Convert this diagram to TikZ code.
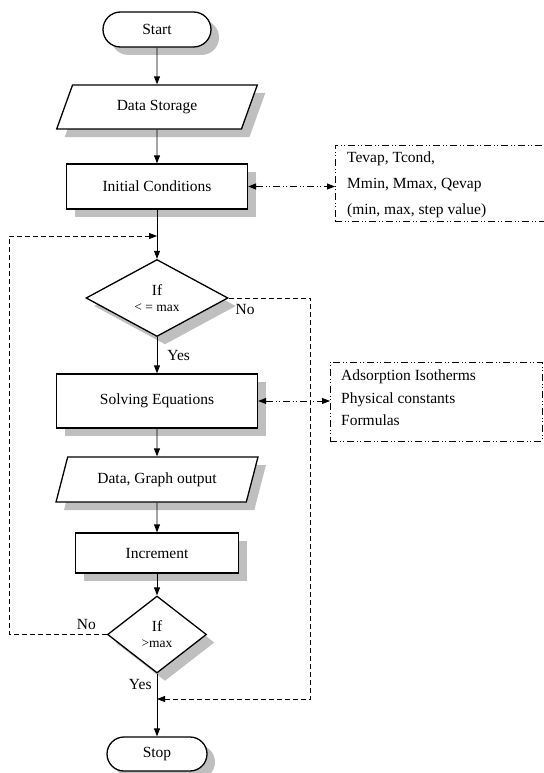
\documentclass[tikz,border=0pt]{standalone}
\usepackage{fontspec}
\setmainfont{Liberation Serif}
\usetikzlibrary{shapes.geometric,shapes.misc,arrows.meta,shadows}
\begin{document}
\begin{tikzpicture}[x=1pt,y=-1pt,
  base/.style={draw, line width=1.3pt, fill=white, font=\fontsize{15.5}{16}\selectfont, inner sep=0pt,
    drop shadow={shadow xshift=8pt, shadow yshift=-8pt, fill=black!25, opacity=1}},
  term/.style={base, rounded rectangle},
  io/.style={base, trapezium, trapezium left angle=61, trapezium right angle=119, trapezium stretches=true},
  proc/.style={base, rectangle},
  dec/.style={base, diamond, align=center},
  flow/.style={line width=0.9pt, -{Triangle[length=8pt,width=6pt]}},
  loop/.style={line width=0.8pt, dash pattern=on 5pt off 3pt, -{Triangle[length=8pt,width=6pt]}},
  link/.style={line width=0.8pt, dash pattern=on 7pt off 3pt on 1pt off 2pt on 1pt off 3pt,
    {Triangle[length=8pt,width=6pt]}-{Triangle[length=8pt,width=6pt]}},
  notebox/.style={draw, line width=0.8pt, dash pattern=on 7pt off 3pt on 1pt off 2pt on 1pt off 3pt,
    anchor=north west, inner sep=0pt},
  notetext/.style={anchor=west, align=left, inner sep=0pt},
  lbl/.style={font=\fontsize{15.5}{16}\selectfont, inner sep=0pt}
]
\useasboundingbox (0,0) rectangle (543,773);

\node[term, minimum width=108pt, minimum height=35pt] (start) at (157,29.5) {Start};
\node[io, minimum width=202pt, minimum height=44pt] (ds) at (157,107) {Data Storage};
\node[proc, minimum width=181pt, minimum height=45pt] (ic) at (157,186.5) {Initial Conditions};
\node[dec, minimum width=142pt, minimum height=77pt] (d1) at (157,298) {If\\{\fontsize{13.5}{13.5}\selectfont < = max}};
\node[proc, minimum width=201pt, minimum height=54pt] (se) at (157,401) {Solving Equations};
\node[io, minimum width=202pt, minimum height=45pt] (dg) at (157,479.5) {Data, Graph output};
\node[proc, minimum width=163pt, minimum height=40pt] (inc) at (157,553) {Increment};
\node[dec, minimum width=99pt, minimum height=77pt] (d2) at (157,634.5) {If\\{\fontsize{13.5}{13.5}\selectfont >max}};
\node[term, minimum width=100pt, minimum height=34pt] (stop) at (157,754) {Stop};

\node[notebox, minimum width=210pt, minimum height=76pt] (n1) at (335,145) {};
\node[notetext, font=\fontsize{15.5}{26}\selectfont] (t1) at (347,184.5)
  {Tevap, Tcond,\\Mmin, Mmax, Qevap\\(min, max, step value)};
\node[notebox, minimum width=212pt, minimum height=79pt] (n2) at (330,362) {};
\node[notetext, font=\fontsize{15.5}{22.5}\selectfont] (t2) at (341,398)
  {Adsorption Isotherms\\Physical constants\\Formulas};

\coordinate (j1) at (157,236);
\coordinate (j2) at (157,699);

\draw[flow] (start) -- (ds);
\draw[flow] (ds) -- (ic);
\draw[flow] (ic) -- (d1);
\draw[flow] (d1) -- node[lbl, right=10pt]{Yes} (se);
\draw[flow] (se) -- (dg);
\draw[flow] (dg) -- (inc);
\draw[flow] (inc) -- (d2);
\draw[flow] (d2.south) -- node[lbl, pos=0.17, left=5pt]{Yes} (stop.north);

\draw[loop] (d2.west) -- node[lbl, pos=0.21, above=4pt]{No} ++(-97.5,0) |- (j1);
\draw[loop] (d1.east) -- node[lbl, pos=0.2, below=6pt]{No} ++(82,0) |- (j2);

\draw[link] (ic.east) -- (ic.east -| n1.west);
\draw[link] (se.east) -- (se.east -| n2.west);
\end{tikzpicture}
\end{document}
